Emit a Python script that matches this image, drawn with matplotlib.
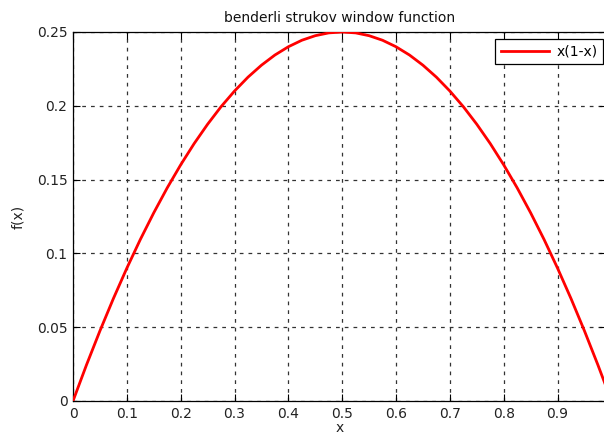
import matplotlib
matplotlib.use("Agg")
import matplotlib.pyplot as plt

# Sampled window values
x_vals = [0.0, 0.025, 0.05, 0.075, 0.1, 0.125, 0.15, 0.175, 0.2, 0.225,
          0.25, 0.275, 0.3, 0.325, 0.35, 0.375, 0.4, 0.425, 0.45, 0.475,
          0.5, 0.525, 0.55, 0.575, 0.6, 0.625, 0.65, 0.675, 0.7, 0.725,
          0.75, 0.775, 0.8, 0.825, 0.85, 0.875, 0.9, 0.925, 0.95, 0.975, 0.99]
f_vals = [0.0, 0.0244, 0.0475, 0.0694, 0.09, 0.1094, 0.1275, 0.1444, 0.16, 0.1744,
          0.1875, 0.1994, 0.21, 0.2194, 0.2275, 0.2344, 0.24, 0.2444, 0.2475, 0.2494,
          0.25, 0.2494, 0.2475, 0.2444, 0.24, 0.2344, 0.2275, 0.2194, 0.21, 0.1994,
          0.1875, 0.1744, 0.16, 0.1444, 0.1275, 0.1094, 0.09, 0.0694, 0.0475, 0.0244, 0.0099]

x_ticks = [0, 0.1, 0.2, 0.3, 0.4, 0.5, 0.6, 0.7, 0.8, 0.9]
x_tick_labels = ["0", "0.1", "0.2", "0.3", "0.4", "0.5", "0.6", "0.7", "0.8", "0.9"]
y_ticks = [0, 0.05, 0.1, 0.15, 0.2, 0.25]
y_tick_labels = ["0", "0.05", "0.1", "0.15", "0.2", "0.25"]

plt.rcParams["font.family"] = ["DejaVu Sans"]

W, H = 604, 434
fig = plt.figure(figsize=(W / 100, H / 100), dpi=100)
ax = fig.add_axes([73 / W, 33 / H, 533 / W, 369 / H])

ax.plot(x_vals, f_vals, color="#ff0000", lw=2.0, label="x(1-x)", zorder=3)

ax.set_xlim(0, 0.99)
ax.set_ylim(0, 0.25)
ax.set_xticks(x_ticks)
ax.set_xticklabels(x_tick_labels)
ax.set_yticks(y_ticks)
ax.set_yticklabels(y_tick_labels)

ax.grid(True, color="#333333", linestyle=(0, (3, 4)), linewidth=0.9)
ax.tick_params(direction="in", length=5, width=0.8, labelsize=10,
               top=True, right=True, colors="black", labelcolor="#222222", pad=4)
for s in ax.spines.values():
    s.set_linewidth(0.9)

ax.set_title("benderli strukov window function", fontsize=10, pad=7, color="#111111")
ax.set_xlabel("x", fontsize=10, labelpad=0, color="#222222")
ax.set_ylabel("f(x)", fontsize=10, labelpad=8, color="#222222")

leg = ax.legend(loc="upper right", bbox_to_anchor=(603 / W, 1 - 39 / H),
                bbox_transform=fig.transFigure, fontsize=10, frameon=True,
                fancybox=False, edgecolor="black", framealpha=1,
                handlelength=3.5, borderaxespad=0, borderpad=0.4,
                handletextpad=0.5)
leg.get_frame().set_linewidth(0.9)

fig.savefig("out.png", dpi=100)
